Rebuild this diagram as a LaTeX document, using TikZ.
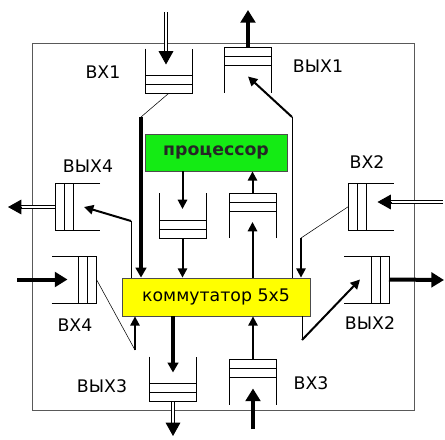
\documentclass[tikz,border=0pt]{standalone}
\usepackage{fontspec}
\setmainfont{DejaVu Sans}
\usetikzlibrary{arrows.meta,calc}
\definecolor{procgreen}{RGB}{20,235,20}
\definecolor{swyellow}{RGB}{255,255,0}
\tikzset{
  qline/.style={line width=0.6pt},
  link/.style={line width=0.4pt},
  arr/.style={line width=1.5pt,-{Triangle[length=7pt,width=7pt]}},
  fatarr/.style={line width=2.4pt,-{Triangle[length=7.5pt,width=8pt]}},
  bigarr/.style={line width=3pt,-{Triangle[length=9.5pt,width=11pt]}},
  dblshaft/.style={double,double distance=1.6pt,line width=0.7pt,shorten >=8pt},
  dbltip/.style={line width=0.7pt,-{Triangle[length=10pt,width=11pt]}},
  lbl/.style={font=\fontsize{13}{15}\selectfont},
  box/.style={draw=black!70,line width=0.6pt,inner sep=0pt,font=\fontsize{13}{15}\selectfont},
  pics/queue/.style={code={
    \draw[qline] (-23.5,-22.5) -- (-23.5,22.5) -- (23.5,22.5) -- (23.5,-22.5);
    \draw[qline] (-23.5,4.5) -- (23.5,4.5) (-23.5,13.5) -- (23.5,13.5);
    \coordinate (-in) at (0,-6.5);
    \coordinate (-end) at (0,22.5);
  }}
}
\newcommand{\dblarrow}[2]{%
  \draw[dblshaft] #1 -- #2;
  \draw[dbltip] ($#2!10pt!#1$) -- #2;}
\begin{document}
\begin{tikzpicture}[x=0.75pt,y=-0.75pt]
\useasboundingbox (0,0) rectangle (445,439);
\draw[line width=0.75pt,black!65] (32,43) rectangle (414,410);

% processor and switch
\node[box,fill=procgreen,minimum width=106.5pt,minimum height=27.75pt,font=\fontsize{13}{15}\selectfont\bfseries,text=black!85] (proc) at (216,152.5) {процессор};
\node[box,fill=swyellow,minimum width=141pt,minimum height=28.5pt] (sw) at (216,297) {коммутатор 5x5};

% queues
\pic (in1) at (168.5,71) {queue};
\pic[rotate=180] (out1) at (248,70) {queue};
\pic[rotate=-90] (in2) at (371,206.5) {queue};
\pic[rotate=90] (out2) at (366.5,279.5) {queue};
\pic[rotate=180] (in3) at (253,382) {queue};
\pic (out3) at (173,379) {queue};
\pic[rotate=90] (in4) at (74,279.5) {queue};
\pic[rotate=-90] (out4) at (77.5,207) {queue};
\pic (qdn) at (182.5,215.5) {queue};
\pic[rotate=180] (qup) at (252.5,215.5) {queue};

% labels
\node[lbl] (lin1) at (103,72) {ВХ1};
\node[lbl] (lout1) at (318,66) {ВЫХ1};
\node[lbl] (lin2) at (367,162) {ВХ2};
\node[lbl] (lout2) at (370,323) {ВЫХ2};
\node[lbl] (lin3) at (311,383) {ВХ3};
\node[lbl] (lout3) at (102,386) {ВЫХ3};
\node[lbl] (lin4) at (75,325) {ВХ4};
\node[lbl] (lout4) at (88,166) {ВЫХ4};

% outside ends and bends
\foreach \n/\x/\y in {ein1/166/12, eout1/248/10, ein2/443/202, eout2/444/280,
    ein3/253/429, eout3/173/436, ein4/17/279.5, eout4/8/207,
    k1/141/117, k2/292/117, k3/301/238, k4/302/340, k5/135/350, k6/131/221}
  \coordinate (\n) at (\x,\y);
\coordinate (tin1) at (ein1 |- in1-in);
\coordinate (tin2) at (ein2 -| in2-in);

% ports to the outside
\dblarrow{(ein1)}{(tin1)}
\draw[bigarr] (out1-end) -- (eout1);
\dblarrow{(ein2)}{(tin2)}
\draw[bigarr] (out2-end) -- (eout2);
\draw[bigarr] (ein3) -- (in3-in);
\dblarrow{(out3-end)}{(eout3)}
\draw[bigarr] (ein4) -- (in4-in);
\dblarrow{(out4-end)}{(eout4)}

% ports to the switch
\draw[link] (in1-end) -- (k1);
\draw[fatarr] (k1) -- (k1 |- sw.north);
\draw[link] (sw.north -| k2) -- (k2);
\draw[arr] (k2) -- (out1-in);
\draw[link] (in2-end) -- (k3);
\draw[arr] (k3) -- (k3 |- sw.north);
\draw[link] (sw.south -| k4) -- (k4);
\draw[arr] (k4) -- (out2-in);
\draw[arr] (in3-end) -- (in3-end |- sw.south);
\draw[fatarr] (sw.south -| out3-in) -- (out3-in);
\draw[link] (in4-end) -- (k5);
\draw[arr] (k5) -- (k5 |- sw.south);
\draw[link] (sw.north -| k6) -- (k6);
\draw[arr] (k6) -- (out4-in);

% processor port
\draw[arr] (proc.south -| qdn-in) -- (qdn-in);
\draw[arr] (qdn-end) -- (qdn-end |- sw.north);
\draw[arr] (sw.north -| qup-in) -- (qup-in);
\draw[arr] (qup-end) -- (qup-end |- proc.south);
\end{tikzpicture}
\end{document}
